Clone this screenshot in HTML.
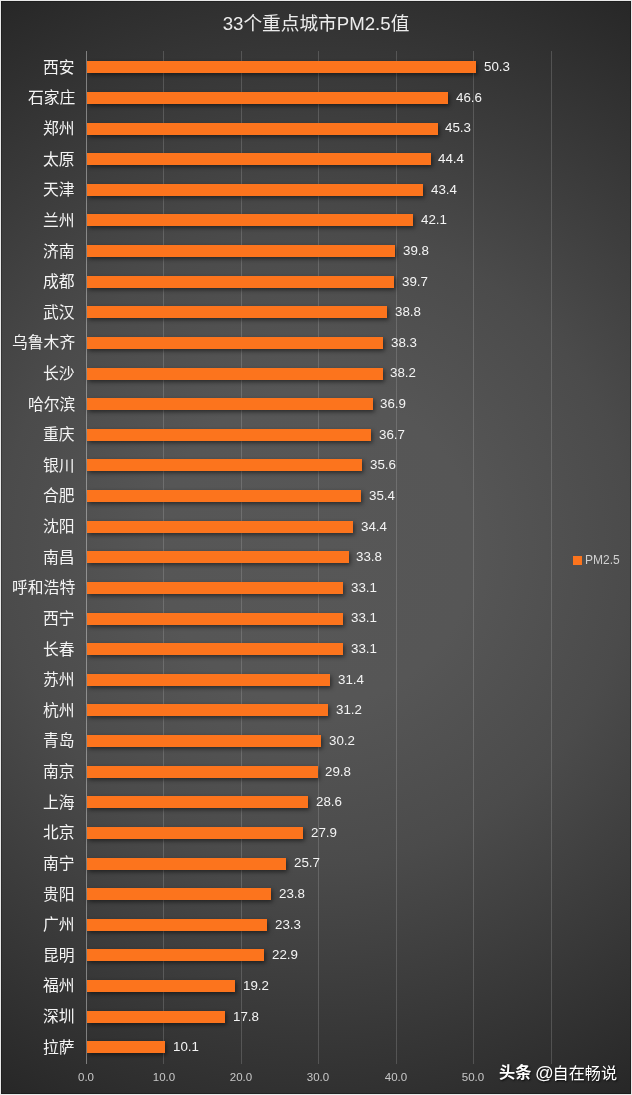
<!DOCTYPE html>
<html lang="zh"><head><meta charset="utf-8"><title>33个重点城市PM2.5值</title>
<style>
html,body{margin:0;padding:0;}
body{width:632px;height:1095px;overflow:hidden;background:#e9e9e9;font-family:"Liberation Sans","Noto Sans CJK SC",sans-serif;}
#chart{position:absolute;left:1px;top:1px;width:630px;height:1093px;overflow:hidden;
 background:radial-gradient(circle farthest-corner at 50% 50%, #575757 0%, #565656 25%, #4b4b4b 50%, #272727 100%);
 box-shadow:inset 0 0 0 1px rgba(0,0,0,.24);}
.t{will-change:transform;position:absolute;white-space:nowrap;line-height:1;}
#title{left:0;width:630px;text-align:center;top:13.5px;font-size:18.67px;color:#ececec;}
.g{position:absolute;width:1px;background:rgba(200,200,200,.22);}
.a{background:rgba(225,225,225,.45);}
.bar{position:absolute;height:12px;background:#fc741d;box-shadow:1.5px 2px 4px rgba(0,0,0,.5);}

.cat{right:556px;font-size:15.8px;color:#f4f4f4;text-align:right;}
.val{font-size:13.33px;color:#f4f4f4;}
.ax{font-size:11.5px;color:#c8c8c8;width:40px;text-align:center;}
#lg{left:572px;top:555px;width:9px;height:9px;background:#fc741d;position:absolute;}
#lgt{left:584.2px;top:553.0px;font-size:12px;color:#d0d0d0;}
#wm{left:498px;top:1063.9px;font-size:16px;color:#fff;text-shadow:1px 1px 2px rgba(0,0,0,.8);}
</style></head><body><div id="chart">
<div class="t" id="title">33个重点城市PM2.5值</div>
<div class="g a" style="left:85px;top:49.8px;height:1013.2px"></div>
<div class="g" style="left:162px;top:49.8px;height:1013.2px"></div>
<div class="g" style="left:240px;top:49.8px;height:1013.2px"></div>
<div class="g" style="left:317px;top:49.8px;height:1013.2px"></div>
<div class="g" style="left:395px;top:49.8px;height:1013.2px"></div>
<div class="g" style="left:472px;top:49.8px;height:1013.2px"></div>
<div class="g" style="left:550px;top:49.8px;height:1013.2px"></div>
<div class="bar" style="left:86.0px;top:60px;width:389.2px"></div><div class="t cat" style="top:58.7px">西安</div><div class="t val" style="left:483.1px;top:59.1px">50.3</div>
<div class="bar" style="left:86.0px;top:91px;width:360.6px"></div><div class="t cat" style="top:89.3px">石家庄</div><div class="t val" style="left:454.5px;top:89.7px">46.6</div>
<div class="bar" style="left:86.0px;top:122px;width:350.5px"></div><div class="t cat" style="top:120.0px">郑州</div><div class="t val" style="left:444.4px;top:120.3px">45.3</div>
<div class="bar" style="left:86.0px;top:152px;width:343.5px"></div><div class="t cat" style="top:150.6px">太原</div><div class="t val" style="left:437.4px;top:151.0px">44.4</div>
<div class="bar" style="left:86.0px;top:183px;width:335.8px"></div><div class="t cat" style="top:181.2px">天津</div><div class="t val" style="left:429.7px;top:181.6px">43.4</div>
<div class="bar" style="left:86.0px;top:213px;width:325.7px"></div><div class="t cat" style="top:211.8px">兰州</div><div class="t val" style="left:419.6px;top:212.2px">42.1</div>
<div class="bar" style="left:86.0px;top:244px;width:307.9px"></div><div class="t cat" style="top:242.5px">济南</div><div class="t val" style="left:401.8px;top:242.9px">39.8</div>
<div class="bar" style="left:86.0px;top:275px;width:307.2px"></div><div class="t cat" style="top:273.1px">成都</div><div class="t val" style="left:401.1px;top:273.5px">39.7</div>
<div class="bar" style="left:86.0px;top:305px;width:300.2px"></div><div class="t cat" style="top:303.7px">武汉</div><div class="t val" style="left:394.1px;top:304.1px">38.8</div>
<div class="bar" style="left:86.0px;top:336px;width:296.3px"></div><div class="t cat" style="top:334.3px">乌鲁木齐</div><div class="t val" style="left:390.2px;top:334.7px">38.3</div>
<div class="bar" style="left:86.0px;top:367px;width:295.5px"></div><div class="t cat" style="top:364.9px">长沙</div><div class="t val" style="left:389.4px;top:365.4px">38.2</div>
<div class="bar" style="left:86.0px;top:397px;width:285.5px"></div><div class="t cat" style="top:395.6px">哈尔滨</div><div class="t val" style="left:379.4px;top:396.0px">36.9</div>
<div class="bar" style="left:86.0px;top:428px;width:283.9px"></div><div class="t cat" style="top:426.2px">重庆</div><div class="t val" style="left:377.8px;top:426.6px">36.7</div>
<div class="bar" style="left:86.0px;top:458px;width:275.4px"></div><div class="t cat" style="top:456.8px">银川</div><div class="t val" style="left:369.3px;top:457.2px">35.6</div>
<div class="bar" style="left:86.0px;top:489px;width:273.9px"></div><div class="t cat" style="top:487.4px">合肥</div><div class="t val" style="left:367.8px;top:487.9px">35.4</div>
<div class="bar" style="left:86.0px;top:520px;width:266.1px"></div><div class="t cat" style="top:518.1px">沈阳</div><div class="t val" style="left:360.0px;top:518.5px">34.4</div>
<div class="bar" style="left:86.0px;top:550px;width:261.5px"></div><div class="t cat" style="top:548.7px">南昌</div><div class="t val" style="left:355.4px;top:549.1px">33.8</div>
<div class="bar" style="left:86.0px;top:581px;width:256.1px"></div><div class="t cat" style="top:579.3px">呼和浩特</div><div class="t val" style="left:350.0px;top:579.7px">33.1</div>
<div class="bar" style="left:86.0px;top:612px;width:256.1px"></div><div class="t cat" style="top:609.9px">西宁</div><div class="t val" style="left:350.0px;top:610.3px">33.1</div>
<div class="bar" style="left:86.0px;top:642px;width:256.1px"></div><div class="t cat" style="top:640.6px">长春</div><div class="t val" style="left:350.0px;top:641.0px">33.1</div>
<div class="bar" style="left:86.0px;top:673px;width:242.9px"></div><div class="t cat" style="top:671.2px">苏州</div><div class="t val" style="left:336.8px;top:671.6px">31.4</div>
<div class="bar" style="left:86.0px;top:703px;width:241.4px"></div><div class="t cat" style="top:701.8px">杭州</div><div class="t val" style="left:335.3px;top:702.2px">31.2</div>
<div class="bar" style="left:86.0px;top:734px;width:233.6px"></div><div class="t cat" style="top:732.4px">青岛</div><div class="t val" style="left:327.5px;top:732.8px">30.2</div>
<div class="bar" style="left:86.0px;top:765px;width:230.5px"></div><div class="t cat" style="top:763.1px">南京</div><div class="t val" style="left:324.4px;top:763.5px">29.8</div>
<div class="bar" style="left:86.0px;top:795px;width:221.2px"></div><div class="t cat" style="top:793.7px">上海</div><div class="t val" style="left:315.1px;top:794.1px">28.6</div>
<div class="bar" style="left:86.0px;top:826px;width:215.8px"></div><div class="t cat" style="top:824.3px">北京</div><div class="t val" style="left:309.7px;top:824.7px">27.9</div>
<div class="bar" style="left:86.0px;top:857px;width:198.8px"></div><div class="t cat" style="top:854.9px">南宁</div><div class="t val" style="left:292.7px;top:855.3px">25.7</div>
<div class="bar" style="left:86.0px;top:887px;width:184.1px"></div><div class="t cat" style="top:885.6px">贵阳</div><div class="t val" style="left:278.0px;top:886.0px">23.8</div>
<div class="bar" style="left:86.0px;top:918px;width:180.2px"></div><div class="t cat" style="top:916.2px">广州</div><div class="t val" style="left:274.1px;top:916.6px">23.3</div>
<div class="bar" style="left:86.0px;top:948px;width:177.1px"></div><div class="t cat" style="top:946.8px">昆明</div><div class="t val" style="left:271.0px;top:947.2px">22.9</div>
<div class="bar" style="left:86.0px;top:979px;width:148.4px"></div><div class="t cat" style="top:977.4px">福州</div><div class="t val" style="left:242.3px;top:977.8px">19.2</div>
<div class="bar" style="left:86.0px;top:1010px;width:137.6px"></div><div class="t cat" style="top:1008.1px">深圳</div><div class="t val" style="left:231.5px;top:1008.5px">17.8</div>
<div class="bar" style="left:86.0px;top:1040px;width:78.0px"></div><div class="t cat" style="top:1038.7px">拉萨</div><div class="t val" style="left:171.9px;top:1039.1px">10.1</div>
<div class="t ax" style="left:65.3px;top:1070.7px">0.0</div>
<div class="t ax" style="left:142.7px;top:1070.7px">10.0</div>
<div class="t ax" style="left:220.1px;top:1070.7px">20.0</div>
<div class="t ax" style="left:297.4px;top:1070.7px">30.0</div>
<div class="t ax" style="left:374.8px;top:1070.7px">40.0</div>
<div class="t ax" style="left:452.2px;top:1070.7px">50.0</div>
<div id="lg"></div><div class="t" id="lgt">PM2.5</div>
<div class="t" id="wm"><b style="position:relative;top:-1.4px;font-size:16.2px">头条</b><span style="margin-left:3.5px;font-size:18.5px;line-height:16px">@</span><span style="margin-left:-1.1px;font-size:16.15px">自在畅说</span></div>
</div></body></html>
